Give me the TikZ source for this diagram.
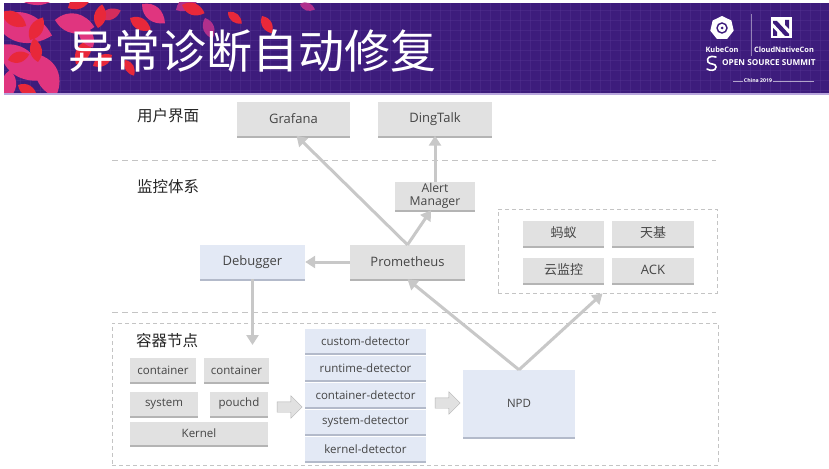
\documentclass[tikz,border=0pt]{standalone}
\usepackage{fontspec}
\setmainfont{Open Sans}
\newfontfamily\cjk{Noto Sans CJK SC}
\usetikzlibrary{shapes.arrows,shapes.geometric,shadows,arrows.meta,calc}

\definecolor{hdr}{HTML}{3D1C7C}
\definecolor{hdrgrid}{HTML}{5A3A98}
\definecolor{hdrline}{HTML}{B8A6DC}
\definecolor{leafpink}{HTML}{E0357F}
\definecolor{leafred}{HTML}{E8283A}
\definecolor{leafmag}{HTML}{B0308C}
\definecolor{leafrose}{HTML}{D42C5C}
\definecolor{boxgray}{HTML}{E1E1E1}
\definecolor{boxgrayshadow}{HTML}{B4B4B4}
\definecolor{boxblue}{HTML}{E3E9F5}
\definecolor{boxblueshadow}{HTML}{B3BACA}
\definecolor{linkgray}{HTML}{C8C8C8}
\definecolor{dashgray}{HTML}{C4C4C4}
\definecolor{txt}{HTML}{454545}

% one leaf of the header decoration: x, y, angle, length, colour
\newcommand\leafshape[5]{%
  \fill[#5, shift={(#1,#2)}, rotate=#3]
    (0,0) .. controls (0.3*#4,0.36*#4) and (0.72*#4,0.3*#4) .. (#4,0)
          .. controls (0.72*#4,-0.3*#4) and (0.3*#4,-0.36*#4) .. (0,0) -- cycle;}

\tikzset{
  lbl/.style={font=\fontsize{13}{15}\selectfont, text=txt, inner sep=0pt},
  smalllbl/.style={font=\fontsize{11.5}{13}\selectfont},
  cjklbl/.style={font=\cjk\fontsize{13}{15}\selectfont},
  graybox/.style={lbl, rectangle, fill=boxgray,
    drop shadow={shadow xshift=0pt, shadow yshift=-2pt, fill=boxgrayshadow, opacity=1}},
  bluebox/.style={lbl, rectangle, fill=boxblue,
    drop shadow={shadow xshift=0pt, shadow yshift=-2pt, fill=boxblueshadow, opacity=1}},
  detbox/.style={bluebox, smalllbl, minimum width=121pt, minimum height=24pt},
  secname/.style={font=\cjk\fontsize{15.5}{17}\selectfont, text=black!85, anchor=west, inner sep=0pt},
  dashbox/.style={draw=dashgray, line width=0.8pt, dash pattern=on 4pt off 3pt, rectangle, inner sep=0pt},
  dashline/.style={draw=dashgray, line width=0.9pt, dash pattern=on 6pt off 4pt},
  link/.style={draw=linkgray, line width=3pt, -{Triangle[length=10pt,width=12pt]}},
  fatarrow/.style={single arrow, fill=boxgray, draw=boxgrayshadow, line width=0.4pt,
    inner xsep=0pt, inner ysep=5pt, single arrow head extend=6pt,
    minimum height=25pt},
  logotxt/.style={text=white, inner sep=0pt, font=\bfseries\fontsize{7.4}{8}\selectfont}
}

\begin{document}
\begin{tikzpicture}[x=1pt,y=-1pt]
\useasboundingbox (0,0) rectangle (829,468);
\fill[white] (0,0) rectangle (829,468);

% ---------- header band ----------
\fill[hdr] (4,3) rectangle (829,93);
\begin{scope}
  \clip (4,3) rectangle (829,93);
  \foreach \gx in {10,20,...,820} \draw[hdrgrid, opacity=0.35, line width=0.4pt] (\gx,3) -- (\gx,93);
  \foreach \gy in {10,20,...,90} \draw[hdrgrid, opacity=0.35, line width=0.4pt] (4,\gy) -- (829,\gy);
  % leaves
  \leafshape{-6}{20}{-15}{60}{leafpink}
  \leafshape{0}{45}{-40}{55}{leafpink}
  \leafshape{20}{0}{20}{50}{leafpink}
  \leafshape{40}{55}{-70}{45}{leafpink}
  \leafshape{55}{20}{-10}{40}{leafpink}
  \leafshape{10}{70}{-95}{30}{leafpink}
  \leafshape{2}{12}{-30}{28}{leafred}
  \leafshape{30}{40}{60}{26}{leafred}
  \leafshape{8}{60}{15}{22}{leafred}
  \leafshape{18}{85}{-30}{22}{leafred}
  \leafshape{38}{62}{100}{24}{leafred}
  \leafshape{68}{8}{30}{28}{leafred}
  \leafshape{90}{40}{-120}{28}{leafred}
  \leafshape{100}{18}{20}{22}{leafrose}
  \leafshape{80}{25}{-60}{26}{leafpink}
  \leafshape{112}{55}{-150}{22}{leafred}
  \leafshape{98}{28}{80}{24}{leafred}
  \leafshape{118}{0}{60}{22}{leafred}
  \leafshape{130}{18}{-30}{24}{leafred}
  \leafshape{142}{4}{-40}{30}{leafpink}
  \leafshape{125}{60}{-60}{18}{leafred}
  \leafshape{176}{10}{30}{26}{leafmag}
  \leafshape{182}{5}{-20}{24}{leafred}
  \leafshape{205}{18}{-70}{22}{leafmag}
  \leafshape{215}{0}{50}{22}{leafred}
  \leafshape{228}{12}{-40}{18}{leafred}
  \leafshape{250}{-4}{60}{22}{leafmag}
  \leafshape{262}{16}{-60}{20}{leafred}
  \leafshape{286}{-2}{70}{18}{leafred}
  \leafshape{300}{4}{-20}{16}{leafmag}
  \leafshape{353}{0}{60}{12}{leafmag}
\end{scope}
\fill[hdrline] (4,93) rectangle (829,95);

\node[anchor=west, text=white, inner sep=0pt, font=\cjk\fontsize{46}{46}\selectfont] (title) at (68,51) {异常诊断自动修复};

% conference logo
\node[regular polygon, regular polygon sides=7, fill=white, minimum size=24pt, inner sep=0pt] (kubeicon) at (722,28) {};
\node[circle, draw=hdr, line width=1.4pt, minimum size=10pt, inner sep=0pt] (kubering) at (722,28) {};
\node[circle, fill=hdr, minimum size=3pt, inner sep=0pt] (kubehub) at (722,28) {};
\draw[white, opacity=0.45, line width=0.4pt] (751,14) -- (751,56);
\node[rectangle, fill=white, minimum size=21pt, inner sep=0pt] (cncficon) at (781,28) {};
\fill[hdr] (773,21) -- (777,21) -- (789,34) -- (789,36) -- (785,36) -- (773,23) -- cycle;
\fill[hdr] (773,28) -- (777,32) -- (777,36) -- (773,36) -- cycle;
\fill[hdr] (789,20) -- (789,29) -- (785,25) -- (785,20) -- cycle;
\node[logotxt] (kubetxt) at (722,50) {KubeCon};
\node[logotxt] (cncftxt) at (784,50) {CloudNativeCon};
\draw[white, line width=1.6pt, line cap=round]
  (716,57) .. controls (710,55) and (706,58) .. (708,62)
  .. controls (710,65) and (716,63) .. (716,67) .. controls (716,71) and (710,71) .. (707,69);
\node[logotxt, anchor=west, font=\bfseries\fontsize{8.2}{9}\selectfont] (osstxt) at (722,63) {OPEN SOURCE SUMMIT};
\node[logotxt, font=\bfseries\fontsize{5.2}{6}\selectfont] (chinatxt) at (758,81) {China 2019};
\draw[white, opacity=0.6, line width=0.4pt] (733,81) -- (743,81) (773,81) -- (814,81);

% ---------- layer separators ----------
\draw[dashline] (112,160) -- (716,160);
\draw[dashline] (112,312) -- (716,312);

\node[secname] (uilayer) at (137,116) {用户界面};
\node[secname] (monlayer) at (137,187) {监控体系};

% ---------- user interface ----------
\node[graybox, minimum width=113pt, minimum height=33pt] (grafana) at (293.5,119) {Grafana};
\node[graybox, minimum width=114pt, minimum height=33pt] (dingtalk) at (435,119) {DingTalk};

% ---------- monitoring ----------
\node[graybox, minimum width=80pt, minimum height=28pt, align=center,
      font=\fontsize{12.2}{13.2}\selectfont] (alertmgr) at (435,196) {Alert\\Manager};
\node[graybox, minimum width=115pt, minimum height=34pt] (prom) at (407.5,262) {Prometheus};
\node[bluebox, minimum width=105pt, minimum height=34pt] (debugger) at (252.5,262) {Debugger};

\node[dashbox, minimum width=219pt, minimum height=84pt] (cloud) at (607.5,251) {};
\node[graybox, cjklbl, minimum width=81pt, minimum height=25pt] (mayi) at (563.5,233) {蚂蚁};
\node[graybox, cjklbl, minimum width=82pt, minimum height=25pt] (tianji) at (653,233) {天基};
\node[graybox, cjklbl, minimum width=81pt, minimum height=25pt] (yunjk) at (563.5,270) {云监控};
\node[graybox, minimum width=82pt, minimum height=25pt] (ack) at (653,270) {ACK};

% ---------- container node ----------
\node[dashbox, minimum width=606pt, minimum height=142pt] (hostnode) at (415,394) {};
\node[secname] (nodelayer) at (136,341) {容器节点};

\node[graybox, smalllbl, minimum width=66pt, minimum height=24pt] (ctr1) at (163,370) {container};
\node[graybox, smalllbl, minimum width=65pt, minimum height=24pt] (ctr2) at (236.5,370) {container};
\node[graybox, smalllbl, minimum width=68pt, minimum height=24pt] (system) at (164,404) {system};
\node[graybox, smalllbl, minimum width=58pt, minimum height=24pt] (pouchd) at (239,404) {pouchd};
\node[graybox, smalllbl, minimum width=138pt, minimum height=23pt] (kernel) at (199,433.5) {Kernel};

\node[fatarrow] (fat1) at (287,407) {};

\node[detbox] (custdet) at (365.5,341) {custom-detector};
\node[detbox] (rundet) at (365.5,368) {runtime-detector};
\node[detbox] (ctrdet) at (365.5,395) {container-detector};
\node[detbox] (sysdet) at (365.5,422) {system-detector};
\node[detbox] (kerdet) at (365.5,449) {kernel-detector};

\node[fatarrow] (fat2) at (445,403) {};

\node[bluebox, smalllbl, minimum width=112pt, minimum height=67pt] (npd) at (519,403.5) {NPD};

% ---------- connectors ----------
\coordinate (dbgdrop) at (252.5,345);
\draw[link] (prom.north) -- ([xshift=3pt]grafana.south);
\draw[link] (prom.north) -- ([xshift=-4pt]alertmgr.south);
\draw[link] (alertmgr.north) -- (alertmgr.north |- dingtalk.south);
\draw[link] (prom.west) -- (debugger.east);
\draw[link] (debugger.south) -- (dbgdrop);
\draw[link] (npd.north) -- (prom.south);
\draw[link] (npd.north) -- ([xshift=-5pt]cloud.south);
\end{tikzpicture}
\end{document}
